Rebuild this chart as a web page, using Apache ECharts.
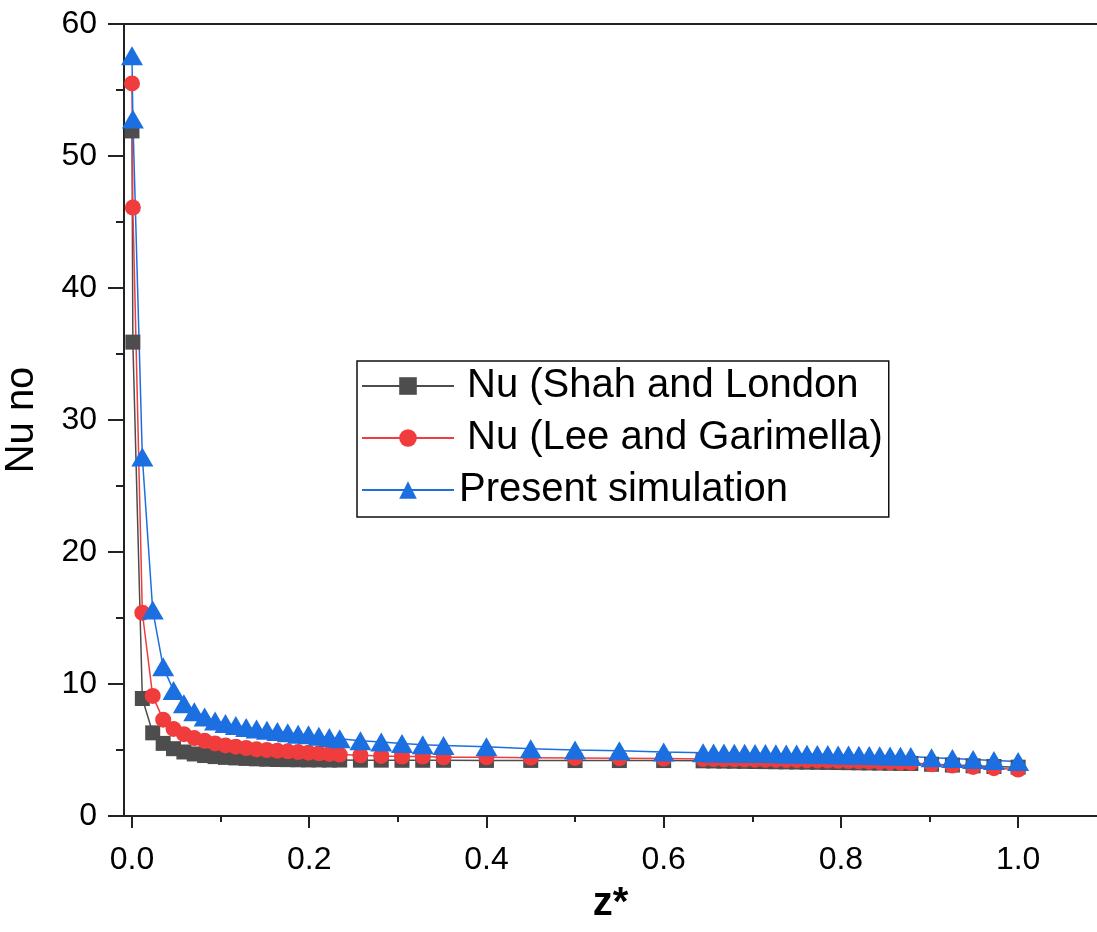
<!DOCTYPE html>
<html>
<head>
<meta charset="utf-8">
<title>Nu vs z*</title>
<script src="https://cdn.jsdelivr.net/npm/echarts@6/dist/echarts.min.js"></script>
<style>
  html, body { margin: 0; padding: 0; background: #fff; }
  #main { width: 1097px; height: 932px; }
</style>
</head>
<body>
<div id="main"></div>
<script>
// z* positions (shared by all three series)
const zStar = [
  0, 0.001, 0.0117, 0.0234, 0.0352, 0.0469, 0.0586, 0.0703, 0.082, 0.0938,
  0.1055, 0.1172, 0.1289, 0.1406, 0.1523, 0.1641, 0.1758, 0.1875, 0.1992, 0.2109,
  0.2227, 0.2344, 0.2578, 0.2813, 0.3047, 0.3281, 0.3516, 0.4, 0.45, 0.5,
  0.55, 0.6, 0.6445, 0.6563, 0.668, 0.6797, 0.6914, 0.7031, 0.7148, 0.7266,
  0.7383, 0.75, 0.7617, 0.7734, 0.7852, 0.7969, 0.8086, 0.8203, 0.832, 0.8438,
  0.8555, 0.8672, 0.8789, 0.9023, 0.9258, 0.9492, 0.9727, 1.0
]

const nuShahLondon = [
  51.9, 35.9, 8.9, 6.3, 5.5, 5.1, 4.85, 4.7, 4.58, 4.5,
  4.44, 4.4, 4.36, 4.33, 4.3, 4.28, 4.27, 4.26, 4.25, 4.25,
  4.24, 4.24, 4.23, 4.23, 4.22, 4.22, 4.22, 4.21, 4.21, 4.2,
  4.2, 4.2, 4.18, 4.17, 4.16, 4.15, 4.14, 4.13, 4.12, 4.11,
  4.1, 4.09, 4.08, 4.07, 4.06, 4.05, 4.04, 4.03, 4.02, 4.01,
  4.0, 3.99, 3.98, 3.92, 3.86, 3.8, 3.75, 3.7
]

const nuLeeGarimella = [
  55.5, 46.1, 15.4, 9.1, 7.3, 6.6, 6.2, 5.9, 5.7, 5.5,
  5.35, 5.25, 5.15, 5.05, 5.0, 4.95, 4.9, 4.85, 4.8, 4.75,
  4.7, 4.65, 4.6, 4.55, 4.5, 4.5, 4.45, 4.45, 4.42, 4.4,
  4.38, 4.35, 4.32, 4.31, 4.3, 4.29, 4.28, 4.27, 4.26, 4.25,
  4.24, 4.23, 4.22, 4.21, 4.2, 4.18, 4.16, 4.14, 4.12, 4.1,
  4.08, 4.06, 4.04, 3.92, 3.82, 3.72, 3.62, 3.52
]

const nuPresent = [
  57.6, 52.8, 27.2, 15.6, 11.3, 9.5, 8.5, 7.9, 7.5, 7.2,
  7.0, 6.85, 6.7, 6.6, 6.5, 6.4, 6.3, 6.2, 6.15, 6.05,
  5.95, 5.85, 5.7, 5.6, 5.5, 5.4, 5.35, 5.25, 5.1, 5.0,
  4.95, 4.85, 4.8, 4.78, 4.77, 4.76, 4.75, 4.74, 4.73, 4.72,
  4.7, 4.69, 4.68, 4.66, 4.65, 4.63, 4.62, 4.6, 4.58, 4.56,
  4.54, 4.52, 4.5, 4.42, 4.35, 4.28, 4.2, 4.12
]

const xMajorTicks = [0, 0.2, 0.4, 0.6, 0.8, 1.0]
const xMinorTicks = [0.1, 0.3, 0.5, 0.7, 0.9]

const seriesNames = ['Nu (Shah and London', 'Nu (Lee and Garimella)', 'Present simulation']

const font = 'Liberation Sans, Arial, sans-serif'
const axisColor = '#222'
const xMin = -0.009
const xMax = 1.089

function pairs (ys) {
  return zStar.map((x, i) => [x, ys[i]])
}

function lineSeries (name, ys, symbol, size, color) {
  return {
    name: name,
    type: 'line',
    data: pairs(ys),
    symbol: symbol,
    symbolSize: size,
    showAllSymbol: true,
    itemStyle: { color: color },
    lineStyle: { color: color, width: 1.5 },
    emphasis: { disabled: true }
  }
}

const myChart = echarts.init(document.getElementById('main'))
myChart.setOption({
  animation: false,
  backgroundColor: '#fff',
  grid: { left: 124, right: 0, top: 24, bottom: 116, outerBoundsMode: 'none', containLabel: false },
  legend: {
    orient: 'vertical',
    left: 357,
    top: 361,
    borderColor: '#111',
    borderWidth: 1.5,
    padding: [5, 6, 7, 4],
    itemWidth: 92,
    itemHeight: 22,
    itemGap: 12,
    textStyle: { fontFamily: font, fontSize: 40, color: '#000' },
    // the first two labels sit a little further from their icons
    formatter: (name) => (name === 'Present simulation' ? name : '\u2009' + name),
    data: seriesNames
  },
  xAxis: [
    {
      type: 'value',
      position: 'bottom',
      min: xMin,
      max: xMax,
      name: 'z*',
      nameLocation: 'middle',
      nameGap: 68,
      nameTextStyle: { fontFamily: font, fontSize: 40, fontWeight: 'bold', color: '#000' },
      axisLine: { onZero: false, lineStyle: { color: axisColor, width: 2 } },
      axisTick: { customValues: xMajorTicks, length: 12, lineStyle: { color: axisColor, width: 2 } },
      axisLabel: {
        customValues: xMajorTicks,
        margin: 28,
        fontFamily: font,
        fontSize: 32,
        color: '#000',
        formatter: (v) => v.toFixed(1)
      },
      splitLine: { show: false }
    },
    {
      // minor ticks
      type: 'value',
      position: 'bottom',
      min: xMin,
      max: xMax,
      axisLine: { show: false, onZero: false },
      axisTick: { customValues: xMinorTicks, length: 6, lineStyle: { color: axisColor, width: 2 } },
      axisLabel: { show: false },
      splitLine: { show: false }
    },
    {
      // top frame line
      type: 'value',
      position: 'top',
      min: xMin,
      max: xMax,
      axisLine: { onZero: false, lineStyle: { color: axisColor, width: 2 } },
      axisTick: { show: false },
      axisLabel: { show: false },
      splitLine: { show: false }
    }
  ],
  yAxis: {
    type: 'value',
    min: 0,
    max: 60,
    interval: 10,
    name: 'Nu no',
    nameLocation: 'middle',
    nameGap: 82,
    nameTextStyle: { fontFamily: font, fontSize: 40, color: '#000' },
    axisLine: { show: true, onZero: false, lineStyle: { color: axisColor, width: 2 } },
    axisTick: { show: true, length: 16, lineStyle: { color: axisColor, width: 2 } },
    minorTick: { show: true, splitNumber: 2, length: 8, lineStyle: { color: axisColor, width: 2 } },
    axisLabel: { margin: 27, fontFamily: font, fontSize: 32, color: '#000' },
    splitLine: { show: false }
  },
  series: [
    lineSeries(seriesNames[0], nuShahLondon, 'rect', 15, '#4d4d4d'),
    lineSeries(seriesNames[1], nuLeeGarimella, 'circle', 16, '#f03c3c'),
    lineSeries(seriesNames[2], nuPresent, 'triangle', [22, 19], '#1c6fe0')
  ]
})
</script>
</body>
</html>
